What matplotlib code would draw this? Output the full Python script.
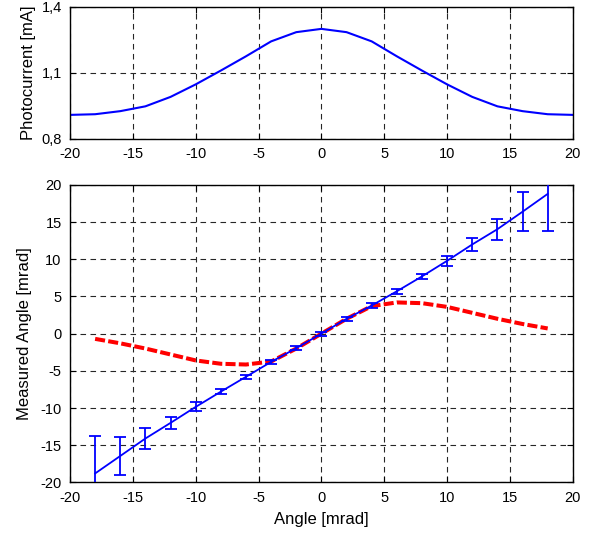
import numpy as np
import matplotlib.pyplot as plt

plt.rcParams['font.family'] = ['Liberation Sans', 'DejaVu Sans']
plt.rcParams['font.size'] = 10.5
plt.rcParams['axes.unicode_minus'] = False

# photocurrent vs angle
pc_angle = [-20, -18, -16, -14, -12, -10, -8, -6, -4, -2, 0, 2, 4, 6, 8, 10, 12, 14, 16, 18, 20]
pc_val = [0.908, 0.911, 0.925, 0.947, 0.99, 1.047, 1.11, 1.175, 1.243, 1.285, 1.30,
          1.285, 1.243, 1.175, 1.11, 1.047, 0.99, 0.947, 0.925, 0.911, 0.908]

# measured angle with error bars
ang = [-18, -16, -14, -12, -10, -8, -6, -4, -2, 0, 2, 4, 6, 8, 10, 12, 14, 16, 18]
meas = [-18.8, -16.45, -14.1, -12.0, -9.85, -7.8, -5.8, -3.8, -1.95, 0.0,
        2.0, 3.78, 5.7, 7.7, 9.8, 12.0, 14.05, 16.4, 18.8]
err = [5.0, 2.55, 1.43, 0.83, 0.6, 0.36, 0.3, 0.3, 0.3, 0.27,
       0.3, 0.3, 0.3, 0.38, 0.67, 0.85, 1.4, 2.6, 5.0]

# red dashed curve
red_y = [-0.7, -1.3, -2.0, -2.8, -3.6, -4.05, -4.15, -3.75, -2.0, 0.0,
         2.0, 3.7, 4.2, 4.1, 3.6, 2.8, 2.0, 1.3, 0.7]

fig = plt.figure(figsize=(5.93, 5.33), dpi=100)
ax1 = fig.add_axes([0.118, 0.740, 0.848, 0.247])
ax2 = fig.add_axes([0.118, 0.095, 0.848, 0.558])

grid_kw = dict(color='0.15', linestyle=(0, (5, 4)), linewidth=0.8)

ax1.plot(pc_angle, pc_val, color='#0000ff', lw=1.5)
ax1.set_xlim(-20, 20)
ax1.set_ylim(0.8, 1.4)
ax1.set_xticks(np.arange(-20, 21, 5))
ax1.set_yticks([0.8, 1.1, 1.4])
ax1.set_yticklabels(['0,8', '1,1', '1,4'])
ax1.set_ylabel('Photocurrent [mA]', fontsize=12, labelpad=4)
ax1.grid(True, **grid_kw)

ax2.plot(ang, red_y, color='#ff0000', lw=2.9, linestyle=(0, (2.5, 0.8)), zorder=3)
ax2.errorbar(ang, meas, yerr=err, color='#0000ff', lw=1.3, capsize=4,
             capthick=1.3, zorder=4)
ax2.set_xlim(-20, 20)
ax2.set_ylim(-20, 20)
ax2.set_xticks(np.arange(-20, 21, 5))
ax2.set_yticks(np.arange(-20, 21, 5))
ax2.set_xlabel('Angle [mrad]', fontsize=12, labelpad=5)
ax2.set_ylabel('Measured Angle [mrad]', fontsize=12, labelpad=6)
ax2.grid(True, **grid_kw)

for ax in (ax1, ax2):
    ax.tick_params(axis='x', direction='in', length=4, top=True, pad=6)
    ax.tick_params(axis='y', direction='in', length=4, right=True, pad=6)
    ax.set_axisbelow(True)
    for s in ax.spines.values():
        s.set_linewidth(1.0)

fig.savefig('out.png', dpi=100)
